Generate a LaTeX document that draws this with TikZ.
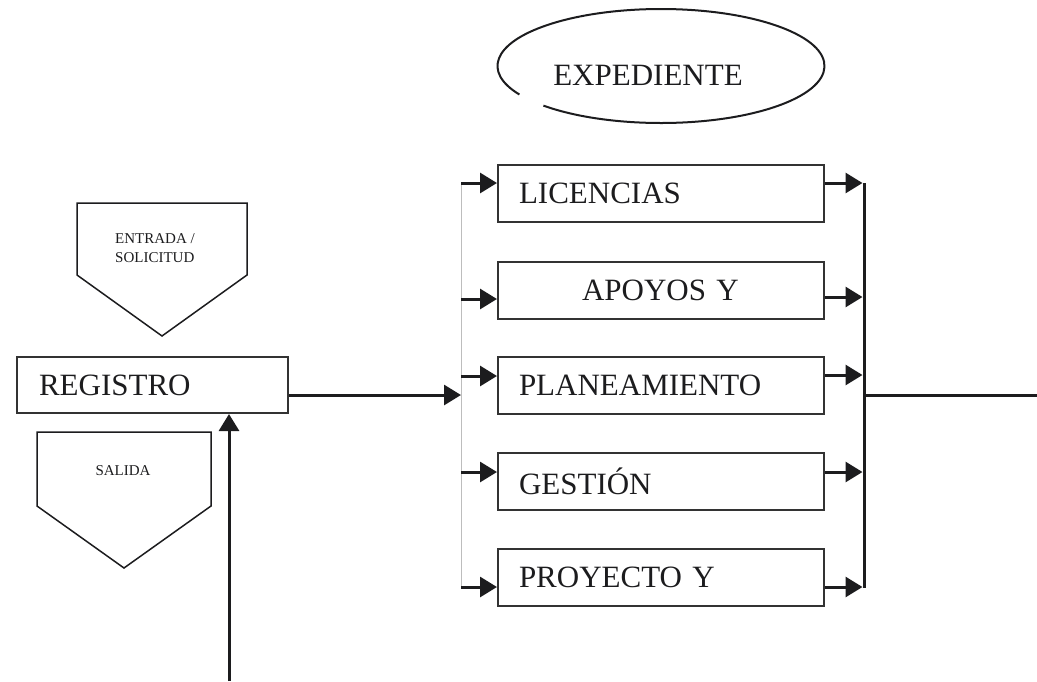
\documentclass[tikz,border=0pt]{standalone}
\usepackage{fontspec}
\setmainfont{Liberation Serif}
\usetikzlibrary{
  arrows.meta,
  shapes.geometric
}
\definecolor{ink}{HTML}{1C1C1E}
\definecolor{frame}{HTML}{333333}
\definecolor{bus}{HTML}{BDBDBD}

\begin{document}
\begin{tikzpicture}[
  x=1pt, y=1pt,
  box/.style={draw=frame, line width=2pt, minimum height=57pt, inner xsep=21pt,
              text width=284pt, align=left, text=ink,
              font=\fontsize{31}{36}\selectfont},
  tag/.style={font=\fontsize{15}{19}\selectfont, text=ink, align=left},
  pent/.style={draw=ink, line width=1.5pt, line join=miter},
  arr/.style={-{Triangle[length=17pt, width=20pt]}, line width=3pt, draw=ink},
  wire/.style={line width=3pt, draw=ink}
]
  \useasboundingbox (0,0) rectangle (1037,-681);

  % Expediente
  \node[ellipse, minimum width=327pt, minimum height=114pt, inner sep=0pt,
        label={[xshift=-13pt, yshift=-9pt, text=ink,
                font=\fontsize{31}{36}\selectfont]center:EXPEDIENTE}]
        (expediente) at (661,-66) {};
  \draw[line width=2pt, draw=ink]
    ([shift={(224:163.5pt and 57pt)}]expediente.center)
    arc[start angle=224, end angle=570, x radius=163.5pt, y radius=57pt];

  % Registro, entrada / salida
  \node[tag] (entrada) at (155,-248) {ENTRADA /\\SOLICITUD};
  \draw[pent] (77,-203) -- (247,-203) -- (247,-275) -- (162,-336) -- (77,-275) -- cycle;

  \node[box, text width=227pt, inner xsep=22pt, minimum height=56pt]
        (registro) at (152.5,-385) {REGISTRO};

  \node[tag] (salida) at (123,-471) {SALIDA};
  \draw[pent] (37,-432) -- (211,-432) -- (211,-506) -- (124,-568) -- (37,-506) -- cycle;

  \coordinate (entry) at (229,-681);
  \draw[arr] (entry) -- (entry |- registro.south);

  % Ramas del expediente
  \node[box] (licencias) at (661,-193.5) {LICENCIAS};
  \node[box] (apoyos) at (661,-290) {\hspace*{63pt}APOYOS Y};
  \node[box] (planeamiento) at (661,-385) {PLANEAMIENTO};
  \node[box] (gestion) at (661,-481.5) {GESTIÓN};
  \node[box] (proyecto) at (661,-577.5) {PROYECTO Y};

  \coordinate (busl) at (461,-183);
  \coordinate (busr) at (864,-183);
  \draw[bus, line width=1pt] (busl) -- (461,-587);
  \draw[wire] (busr) -- (864,-588);

  \coordinate (busin) at (461,-395);
  \draw[arr] ([yshift=-10pt]registro.east) -- (busin);

  \foreach \n/\a/\b in {licencias/10.5/10.5, apoyos/-9/-7, planeamiento/9/10,
                        gestion/9.5/9.5, proyecto/-9.5/-9.5} {
    \path ([yshift=\a pt]\n.west) coordinate (\n in)
          ([yshift=\b pt]\n.east) coordinate (\n out);
    \draw[arr] (\n in -| busl) -- (\n in);
    \draw[arr] (\n out) -- ([xshift=-1.5pt]\n out -| busr);
  }

  % Salida del expediente
  \coordinate (exit) at (1037,-395);
  \draw[wire] (busin -| busr) -- (exit);
\end{tikzpicture}
\end{document}
